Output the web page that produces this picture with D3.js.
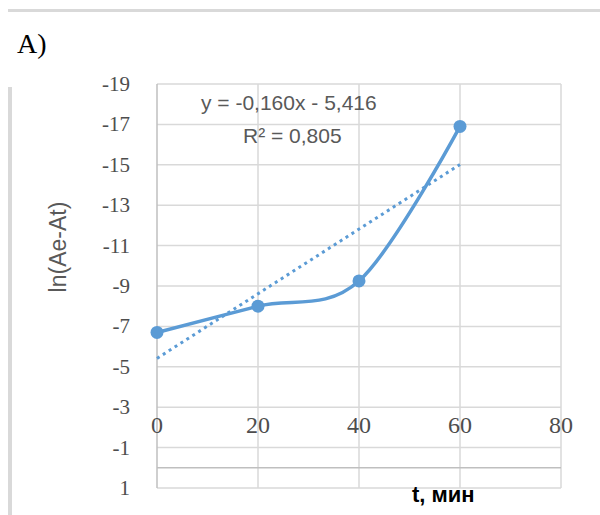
<!DOCTYPE html>
<html>
  <head>
    <meta charset="utf-8" />
    <script src="https://cdn.jsdelivr.net/npm/d3@7"></script>
    <style>
    body { margin: 0; background: #ffffff; }
    .grid { stroke: #d9d9d9; stroke-width: 1.5; }
    .axis-line { stroke: #bfbfbf; stroke-width: 1.5; }
    .tick-label { font-family: "Liberation Serif", "Times New Roman", serif; fill: #4d4d4d; }
    .eq { font-family: "Liberation Sans", Arial, sans-serif; font-size: 20px; fill: #595959; }
    </style>
  </head>
  <body>
    <svg id="chart" width="600" height="515"></svg>

    <script type="text/javascript">
// data
var times = [0, 20, 40, 60];
var lnValues = [-6.7, -8.0, -9.25, -16.9];
var trendCoef = [-0.160, -5.416];   // slope, intercept
var xTicks = [0, 20, 40, 60, 80];
var yTicks = [-19, -17, -15, -13, -11, -9, -7, -5, -3, -1, 1];
var eqText = ["y = -0,160x - 5,416", "R² = 0,805"];

var svg = d3.select("#chart");

var x = d3.scaleLinear().domain([0, 80]).range([157, 561]);
var y = d3.scaleLinear().domain([-19, 1]).range([84, 488]);

// frame pieces of the page
svg.append("rect").attr("x", 8).attr("y", 9).attr("width", 592).attr("height", 3).attr("fill", "#d9d9d9");
svg.append("rect").attr("x", 8).attr("y", 87).attr("width", 4).attr("height", 428).attr("fill", "#d9d9d9");

svg.append("text")
    .attr("x", 17).attr("y", 53)
    .style("font-family", "'Liberation Serif', 'Times New Roman', serif")
    .style("font-size", "28px")
    .text("A)");

// gridlines
svg.selectAll("line.hgrid").data(yTicks).enter().append("line")
    .attr("class", "grid")
    .attr("x1", x(0)).attr("x2", x(80))
    .attr("y1", function(d) { return y(d); })
    .attr("y2", function(d) { return y(d); });

svg.selectAll("line.vgrid").data(xTicks.slice(1)).enter().append("line")
    .attr("class", "grid")
    .attr("y1", y(-19)).attr("y2", y(1))
    .attr("x1", function(d) { return x(d); })
    .attr("x2", function(d) { return x(d); });

// axes lines
svg.append("line").attr("class", "axis-line")
    .attr("x1", x(0)).attr("x2", x(0)).attr("y1", y(-19)).attr("y2", y(1));
svg.append("line").attr("class", "axis-line")
    .attr("x1", x(0)).attr("x2", x(80)).attr("y1", y(0)).attr("y2", y(0));

// tick labels
svg.selectAll("text.ylab").data(yTicks).enter().append("text")
    .attr("class", "tick-label")
    .attr("x", 130)
    .attr("y", function(d) { return y(d) + 7; })
    .attr("text-anchor", "end")
    .style("font-size", "21px")
    .text(function(d) { return d; });

svg.selectAll("text.xlab").data(xTicks).enter().append("text")
    .attr("class", "tick-label")
    .attr("x", function(d) { return x(d); })
    .attr("y", y(0) - 35)
    .attr("text-anchor", "middle")
    .style("font-size", "24px")
    .text(function(d) { return d; });

// axis titles
svg.append("text")
    .attr("transform", "translate(66,247) rotate(-90)")
    .attr("text-anchor", "middle")
    .style("font-family", "'Liberation Sans', Arial, sans-serif")
    .style("font-size", "23px")
    .attr("fill", "#595959")
    .text("ln(Ae-At)");

svg.append("text")
    .attr("x", 412).attr("y", 502)
    .style("font-family", "'Liberation Sans', Arial, sans-serif")
    .style("font-size", "22px")
    .style("font-weight", "bold")
    .attr("fill", "#000000")
    .text("t, мин");

// linear trendline
svg.append("line")
    .attr("x1", x(0)).attr("y1", y(trendCoef[1]))
    .attr("x2", x(60)).attr("y2", y(trendCoef[0] * 60 + trendCoef[1]))
    .attr("stroke", "#5b9bd5")
    .attr("stroke-width", 3)
    .attr("stroke-dasharray", "3,4");

// smoothed series
var pts = times.map(function(t, i) { return [t, lnValues[i]]; });
var line = d3.line()
    .x(function(d) { return x(d[0]); })
    .y(function(d) { return y(d[1]); })
    .curve(d3.curveCardinal.tension(0));

svg.append("path")
    .datum(pts)
    .attr("d", line)
    .attr("fill", "none")
    .attr("stroke", "#5b9bd5")
    .attr("stroke-width", 3.5);

svg.selectAll("circle.pt").data(pts).enter().append("circle")
    .attr("cx", function(d) { return x(d[0]); })
    .attr("cy", function(d) { return y(d[1]); })
    .attr("r", 6.5)
    .attr("fill", "#5b9bd5");

// equation label
svg.append("text").attr("class", "eq").attr("x", 201).attr("y", 110).style("font-size", "21px").text(eqText[0]);
svg.append("text").attr("class", "eq").attr("x", 243).attr("y", 143).style("font-size", "21px").text(eqText[1]);
    </script>
  </body>
</html>
